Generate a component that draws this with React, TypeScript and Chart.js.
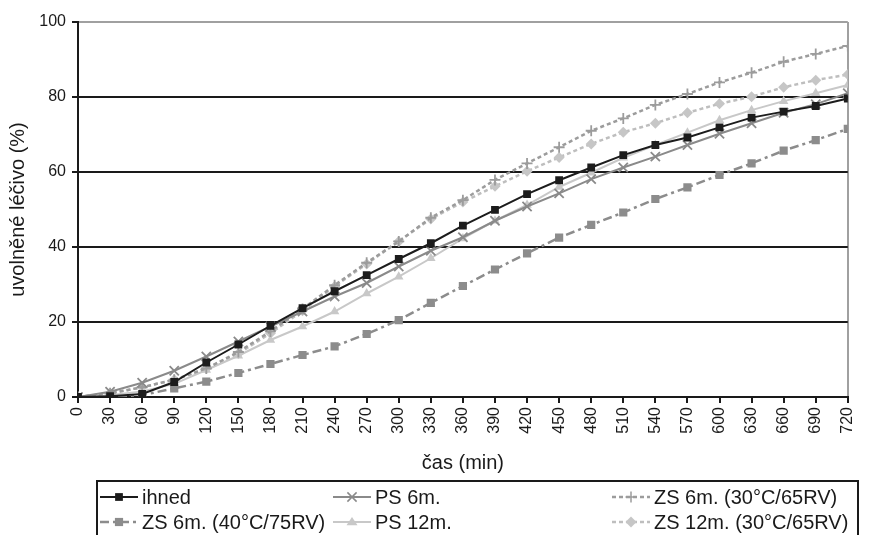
import React, { useEffect, useRef } from 'react';
import { Chart, registerables } from 'chart.js';

Chart.register(...registerables);

// ---- data ----
const times = [0, 30, 60, 90, 120, 150, 180, 210, 240, 270, 300, 330, 360, 390, 420, 450, 480, 510, 540, 570, 600, 630, 660, 690, 720];
const yTicks = [0, 20, 40, 60, 80, 100];
const seriesNames = ['ihned', 'PS 6m.', 'ZS 6m. (30°C/65RV)', 'ZS 6m. (40°C/75RV)', 'PS 12m.', 'ZS 12m. (30°C/65RV)'];
const ihned = [0, 0.2, 0.8, 4, 9.2, 14, 19, 23.7, 28.2, 32.5, 36.8, 41, 45.7, 49.9, 54.1, 57.8, 61.2, 64.5, 67.2, 69.2, 71.9, 74.5, 76.1, 77.6, 79.6];
const ps6 = [0, 1.4, 3.8, 7, 10.8, 14.8, 18.8, 22.8, 26.8, 30.4, 34.8, 39, 42.6, 47, 50.8, 54.3, 58.1, 61.2, 64.1, 67.2, 70.2, 73, 75.8, 78.1, 81];
const zs6_30 = [0, 1, 2.6, 4.6, 7.6, 12, 17.5, 23.5, 29.8, 35.8, 41.5, 47.8, 52.5, 57.9, 62.3, 66.6, 71, 74.3, 77.9, 80.8, 83.9, 86.5, 89.4, 91.5, 93.6];
const zs6_40 = [0, 0, 0.5, 2.3, 4.1, 6.4, 8.8, 11.2, 13.5, 16.8, 20.5, 25.1, 29.6, 34, 38.3, 42.5, 45.9, 49.2, 52.8, 55.9, 59.2, 62.3, 65.7, 68.5, 71.5];
const ps12 = [0, 0.5, 1.5, 3.5, 7.2, 11, 15.2, 18.8, 22.8, 27.6, 32.1, 37, 42.3, 47, 51.2, 56, 59.8, 63.8, 67.2, 70.5, 73.8, 76.5, 78.9, 81, 83.2];
const zs12_30 = [0, 1, 2.6, 4.6, 7.6, 11.6, 17, 23, 29.5, 35.5, 41.5, 47.5, 52, 56.2, 60.2, 63.9, 67.5, 70.6, 73, 75.8, 78.2, 80.1, 82.6, 84.5, 86];

const seriesValues = [ihned, ps6, zs6_30, zs6_40, ps12, zs12_30];

// ---- styles ----
type Sty = { color: string; fill: string; dash: number[]; point: string; r: number; width: number };
const styles: Sty[] = [
  { color: '#1c1c1c', fill: '#1c1c1c', dash: [], point: 'rect', r: 5.5, width: 2 },
  { color: '#8a8a8a', fill: '#8a8a8a', dash: [], point: 'crossRot', r: 6.5, width: 2 },
  { color: '#9c9c9c', fill: '#9c9c9c', dash: [4, 3], point: 'cross', r: 5.5, width: 2.5 },
  { color: '#8c8c8c', fill: '#8c8c8c', dash: [9, 4, 3, 4], point: 'rect', r: 5.8, width: 2.5 },
  { color: '#c8c8c8', fill: '#c8c8c8', dash: [], point: 'triangle', r: 5.5, width: 2 },
  { color: '#bebebe', fill: '#c6c6c6', dash: [4, 3], point: 'rectRot', r: 5.5, width: 2.5 },
];

const FONT = '"Liberation Sans", Arial, sans-serif';

function drawMarker(ctx: CanvasRenderingContext2D, s: Sty, x: number, y: number) {
  const r = s.r;
  ctx.save();
  ctx.fillStyle = s.fill;
  ctx.strokeStyle = s.color;
  ctx.lineWidth = 1.5;
  ctx.setLineDash([]);
  ctx.beginPath();
  if (s.point === 'rect') {
    const h = r * Math.SQRT1_2;
    ctx.rect(x - h, y - h, 2 * h, 2 * h);
    ctx.fill();
  } else if (s.point === 'rectRot') {
    ctx.moveTo(x - r, y); ctx.lineTo(x, y - r); ctx.lineTo(x + r, y); ctx.lineTo(x, y + r); ctx.closePath();
    ctx.fill();
  } else if (s.point === 'triangle') {
    ctx.moveTo(x - r, y + r * 0.6); ctx.lineTo(x, y - r * 0.9); ctx.lineTo(x + r, y + r * 0.6); ctx.closePath();
    ctx.fill();
  } else if (s.point === 'cross') {
    ctx.moveTo(x - r, y); ctx.lineTo(x + r, y); ctx.moveTo(x, y - r); ctx.lineTo(x, y + r);
    ctx.stroke();
  } else {
    const h = r * Math.SQRT1_2;
    ctx.moveTo(x - h, y - h); ctx.lineTo(x + h, y + h); ctx.moveTo(x - h, y + h); ctx.lineTo(x + h, y - h);
    ctx.stroke();
  }
  ctx.restore();
}

const legendOrder = [0, 1, 2, 3, 4, 5];

const legendPlugin = {
  id: 'boxLegend',
  afterDraw(chart: any) {
    const ctx: CanvasRenderingContext2D = chart.ctx;
    ctx.save();
    ctx.strokeStyle = '#1a1a1a';
    ctx.lineWidth = 2;
    ctx.setLineDash([]);
    ctx.strokeRect(97, 481, 761, 70);
    const cols = [100, 333, 612];
    const rows = [497, 522];
    ctx.font = '20px ' + FONT;
    ctx.textBaseline = 'middle';
    ctx.fillStyle = '#1a1a1a';
    legendOrder.forEach((di, k) => {
      const s = styles[di];
      const col = k % 3;
      const row = Math.floor(k / 3);
      const x0 = cols[col];
      const y = rows[row];
      ctx.save();
      ctx.strokeStyle = s.color;
      ctx.lineWidth = s.width;
      ctx.setLineDash(s.dash);
      ctx.beginPath();
      ctx.moveTo(x0, y);
      ctx.lineTo(x0 + 38, y);
      ctx.stroke();
      ctx.restore();
      drawMarker(ctx, s, x0 + 19, y);
      ctx.fillStyle = '#1a1a1a';
      ctx.fillText(seriesNames[di], x0 + 42, y + 1);
    });
    ctx.restore();
  },
};

export default function App() {
  const ref = useRef<HTMLCanvasElement>(null);
  useEffect(() => {
    document.body.style.margin = '0';
    const canvas = ref.current!;
    const chart = new Chart(canvas, {
      type: 'line',
      data: {
        datasets: seriesValues.map((vals, i) => ({
          label: seriesNames[i],
          data: times.map((t, j) => ({ x: t, y: vals[j] })),
          borderColor: styles[i].color,
          backgroundColor: styles[i].fill,
          borderWidth: styles[i].width,
          borderDash: styles[i].dash,
          pointStyle: styles[i].point as any,
          pointRadius: styles[i].r,
          pointBorderColor: styles[i].color,
          pointBackgroundColor: styles[i].fill,
          pointBorderWidth: styles[i].point.startsWith('cross') ? 1.8 : 0,
          tension: 0,
          fill: false,
        })),
      },
      plugins: [legendPlugin],
      options: {
        animation: false,
        responsive: false,
        devicePixelRatio: 1,
        layout: { padding: { left: 0, top: 22, right: 8, bottom: 0 } },
        plugins: { legend: { display: false }, tooltip: { enabled: false } },
        scales: {
          x: {
            type: 'linear',
            min: 0,
            max: 720,
            afterFit: (s: any) => { s.height = 138; },
            afterBuildTicks: (s: any) => { s.ticks = times.map((v) => ({ value: v })); },
            ticks: {
              stepSize: 30,
              minRotation: 90,
              maxRotation: 90,
              autoSkip: false,
              padding: 4,
              color: '#1a1a1a',
              font: { size: 16, family: FONT },
            },
            grid: {
              color: (c: any) => (c.tick && c.tick.value === 720 ? '#a0a0a0' : 'rgba(0,0,0,0)'),
              lineWidth: 2,
              tickColor: '#1a1a1a',
              tickLength: 6,
              drawTicks: true,
            },
            border: { display: true, color: '#1a1a1a', width: 2 },
            title: {
              display: true,
              text: 'čas (min)',
              color: '#1a1a1a',
              font: { size: 20, family: FONT },
              padding: { top: 0, bottom: 60 },
            },
          },
          y: {
            min: 0,
            max: 100,
            afterFit: (s: any) => { s.width = 78; },
            afterBuildTicks: (s: any) => { s.ticks = yTicks.map((v) => ({ value: v })); },
            ticks: {
              stepSize: 20,
              padding: 6,
              color: '#1a1a1a',
              font: { size: 16, family: FONT },
            },
            grid: {
              color: (c: any) => (c.tick && c.tick.value === 100 ? '#a0a0a0' : '#1a1a1a'),
              lineWidth: 2,
              tickColor: '#1a1a1a',
              tickLength: 6,
            },
            border: { display: true, color: '#1a1a1a', width: 2 },
            title: {
              display: true,
              text: 'uvolněné léčivo (%)',
              color: '#1a1a1a',
              font: { size: 20, family: FONT },
              padding: { top: 6, bottom: 0 },
            },
          },
        },
      },
    } as any);
    return () => chart.destroy();
  }, []);
  return (
    <div style={{ position: 'relative', width: 871, height: 535 }}>
      <canvas ref={ref} width={871} height={535} style={{ display: 'block', width: 871, height: 535 }} />
    </div>
  );
}
